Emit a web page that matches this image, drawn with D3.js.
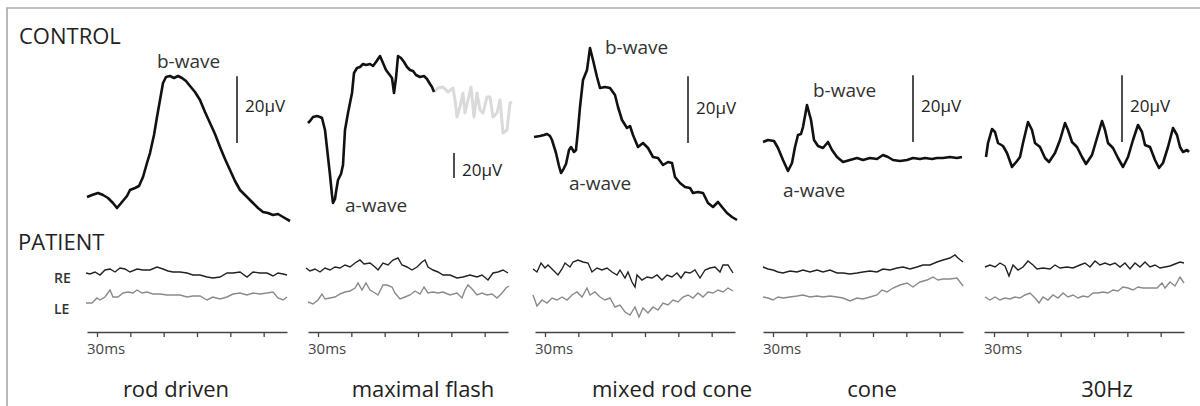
<!DOCTYPE html>
<html>
<head>
<meta charset="utf-8">
<script src="https://cdn.jsdelivr.net/npm/d3@7"></script>
<style>
  body { margin: 0; background: #fff; }
  text { font-family: "Open Sans", sans-serif; }
</style>
</head>
<body>
<div id="chart"></div>
<script>
// ---- data: time in ms, amplitude in µV ----
var panelNames = ["rod driven", "maximal flash", "mixed rod cone", "cone", "30Hz"];
var tickValues = [0, 30, 60, 90, 120, 150];
var tickLabel = "30ms";
var scaleBarValue = 20; // µV

// control traces
var ctrlRod = [[-9,0],[-4.5,0.6],[0.9,1.2],[5.4,0.6],[9.9,-0.3],[14.4,-1.8],[18,-3.3],[22.5,-1.5],[27,0.3],[29.7,2.1],[34.2,2.7],[37.8,3.3],[41.4,6.0],[45,10.2],[47.7,13.2],[51.3,18.6],[54,24.0],[56.7,29.1],[59.4,34.2],[62.1,36.0],[65.7,36.3],[69.3,35.7],[72.9,36.3],[76.5,35.7],[80.1,34.8],[83.7,33.3],[88.2,31.5],[92.7,29.1],[97.2,25.5],[101.7,22.2],[106.2,18.9],[110.7,15.0],[115.2,11.4],[119.7,8.1],[124.2,4.8],[128.7,2.1],[135,0],[140.4,-1.8],[144.9,-3.3],[149.4,-4.5],[153.9,-4.8],[158.4,-5.4],[162.9,-5.1],[167.4,-6.0],[173.7,-7.2]];
var ctrlMax = [[-9,0],[-7.2,1.6],[-4.5,4.8],[-0.9,5.6],[1.8,4.8],[3.6,4.0],[6.3,-5.6],[9,-27.2],[10.8,-41.6],[12.6,-57.6],[13.5,-64.0],[15.3,-60.8],[16.2,-55.2],[18,-45.6],[20.7,-40.8],[22.5,-33.6],[24.3,-5.6],[27,8.0],[28.8,16.0],[30.6,24.0],[32.4,40.0],[35.1,44.0],[37.8,44.8],[40.5,47.2],[43.2,46.4],[46.8,47.2],[49.5,45.6],[52.2,48.8],[55.8,53.6],[58.5,48.0],[61.2,42.4],[63.9,39.2],[66.6,36.0],[68.4,24.0],[70.2,36.0],[72,53.6],[74.7,52.0],[77.4,48.8],[80.1,44.8],[82.8,42.4],[85.5,41.6],[88.2,38.4],[91.8,36.8],[95.4,37.6],[98.1,35.2],[100.8,31.2],[102.6,28.8],[104.4,24.8]];
var ctrlMaxTail = [[104.4,24.8],[108,28.0],[112.5,28.8],[117,24.8],[121.5,28.0],[123.3,18.4],[125.1,4.8],[127.8,12.8],[130.5,24.0],[132.3,8.0],[135,18.4],[137.7,28.8],[140.4,4.8],[143.1,24.0],[145.8,10.4],[148.5,8.0],[152.1,20.8],[154.8,20.8],[157.5,4.8],[161.1,8.0],[163.8,18.4],[166.5,-8.0],[170.1,-5.6],[172.8,16.0],[174.6,16.8]];
var ctrlMixed = [[-9.9,0],[-4.5,0.3],[-0.9,0.6],[1.8,0.9],[4.5,0.3],[6.3,-0.9],[9.9,-4.8],[12.6,-8.7],[14.4,-10.8],[16.2,-9.9],[18.9,-8.1],[21.6,-3.9],[23.4,-3.0],[26.1,-4.5],[27.9,-3.9],[29.7,2.1],[31.5,9.0],[34.2,17.1],[37.8,20.1],[40.5,26.7],[43.2,23.1],[46.8,18.0],[49.5,14.7],[54,15.0],[58.5,14.7],[63,12.6],[65.7,9.0],[69.3,5.1],[73.8,2.7],[76.5,3.3],[79.2,0.6],[83.7,-3.0],[88.2,-1.8],[92.7,-3.3],[97.2,-6.0],[101.7,-6.3],[106.2,-8.4],[110.7,-7.5],[114.3,-7.8],[117,-12.0],[121.5,-13.8],[126,-15.0],[130.5,-15.3],[133.2,-16.8],[137.7,-16.5],[142.2,-16.8],[146.7,-19.8],[151.2,-21.0],[155.7,-19.5],[159.3,-21.0],[163.8,-22.8],[168.3,-24.0],[172.8,-24.9]];
var ctrlCone = [[-9,-0.3],[-4.5,0.3],[0.9,0],[4.5,-2.1],[9,-5.7],[13.5,-9.0],[17.1,-6.6],[19.8,-1.8],[22.5,1.8],[25.2,2.1],[27,4.2],[30.6,10.8],[34.2,6.3],[36.9,0.3],[40.5,-1.5],[45,-2.1],[49.5,-0.3],[53.1,-2.7],[57.6,-4.8],[63,-6.3],[69.3,-5.7],[75.6,-5.1],[81,-5.7],[87.3,-5.1],[93.6,-5.4],[99,-4.2],[103.5,-4.8],[108,-5.7],[114.3,-6.0],[120.6,-5.7],[126,-5.1],[132.3,-5.4],[136.8,-5.1],[143.1,-5.4],[147.6,-5.1],[153,-5.1],[159.3,-4.8],[165.6,-5.1],[170.1,-4.8]];
var ctrlFlicker = [[-7.2,-2.1],[-5.4,2.1],[-1.8,6.3],[0.9,5.4],[3.6,2.1],[8.1,1.2],[11.7,-0.9],[16.2,-5.1],[20.7,-3.3],[23.4,-2.1],[26.1,2.1],[30.6,8.4],[34.2,6.0],[36.9,2.1],[41.4,0.9],[45.9,-2.4],[49.5,-3.6],[54.9,-0.9],[59.4,3.0],[63.9,8.1],[66.6,6.0],[70.2,2.4],[74.7,0.9],[79.2,-2.1],[82.8,-4.2],[88.2,-1.5],[92.7,3.6],[97.2,8.7],[99.9,6.0],[102.6,2.1],[107.1,0.6],[111.6,-2.4],[116.1,-5.1],[120.6,-2.1],[125.1,3.0],[129.6,7.5],[133.2,5.4],[135.9,1.5],[140.4,0.9],[144.9,-3.0],[148.5,-5.4],[152.1,-3.9],[156.6,0.9],[161.1,6.6],[164.7,4.5],[167.4,0.9],[170.1,-0.6],[173.7,0],[175.5,-0.6]];

// patient traces, right eye (RE) and left eye (LE)
var reRod = [[-9.9,-0.3],[-6.3,-0.6],[-1.8,0],[2.7,-0.9],[7.2,0.6],[11.7,0.9],[16.2,0],[20.7,1.2],[25.2,0.9],[29.7,0],[36,0.9],[41.4,0.6],[47.7,0.6],[54,1.5],[59.4,0.9],[63.9,0.3],[68.4,0],[74.7,0],[81,-0.3],[86.4,-0.9],[92.7,-0.9],[99,-1.5],[104.4,-1.8],[110.7,-1.5],[117,-0.3],[122.4,-0.3],[128.7,0],[135,-1.5],[140.4,0],[146.7,-0.3],[153,-0.3],[158.4,-1.2],[162.9,-0.3],[167.4,-0.6],[171,-0.9]];
var leRod = [[-9.9,-2.1],[-4.5,-2.1],[0,-0.6],[2.7,-1.2],[7.2,-0.3],[11.7,1.8],[14.4,-0.3],[18.9,-0.3],[23.4,0.9],[27.9,1.2],[32.4,0.9],[36,1.8],[40.5,0.9],[45,1.2],[50.4,0.6],[56.7,0.6],[63,0.3],[68.4,0.3],[74.7,0.3],[81,-0.3],[86.4,0],[92.7,0],[99,-1.2],[104.4,-0.3],[110.7,-0.9],[117,-0.3],[122.4,0.6],[128.7,0.9],[135,0.3],[140.4,0.9],[146.7,0.6],[153,0.9],[158.4,1.2],[162.9,-0.6],[167.4,-1.2],[171,-0.3]];
var reMax = [[-10.8,1.2],[-7.2,0.3],[-2.7,0.9],[1.8,0],[6.3,1.2],[10.8,0.6],[15.3,1.5],[19.8,1.2],[24.3,2.1],[28.8,1.5],[33.3,2.7],[37.8,3.6],[41.4,2.4],[46.8,2.7],[51.3,1.5],[54,0.6],[58.5,2.7],[63,2.1],[67.5,3.6],[72,4.2],[75.6,2.1],[80.1,1.5],[84.6,0.6],[89.1,1.5],[93.6,3.0],[96.3,3.6],[99,1.5],[103.5,0.6],[108,0],[112.5,-0.9],[118.8,-0.9],[125.1,-1.8],[130.5,-1.5],[136.8,-0.9],[143.1,-1.5],[147.6,-0.9],[153,-2.4],[157.5,-0.3],[162,0],[166.5,0.6],[171,-0.3]];
var leMax = [[-9,-1.8],[-4.5,-2.4],[0,-1.2],[3.6,0.6],[6.3,-0.9],[10.8,-0.6],[15.3,-0.3],[19.8,0.6],[24.3,1.2],[28.8,1.5],[33.3,2.4],[36,3.9],[39.6,1.8],[43.2,3.9],[46.8,1.8],[51.3,0.9],[54,0.3],[58.5,3.3],[62.1,3.3],[66.6,2.7],[69.3,0.9],[73.8,-0.9],[78.3,-0.3],[82.8,0.3],[87.3,1.5],[91.8,0.6],[95.4,2.7],[99,0.9],[103.5,1.2],[108,0.9],[112.5,1.2],[118.8,0.3],[125.1,0.9],[129.6,-0.6],[132.3,1.8],[135,3.3],[139.5,1.8],[143.1,0.3],[147.6,0.9],[152.1,0.3],[156.6,0.6],[161.1,-0.6],[165.6,0.9],[169.2,2.4],[171.9,3.0]];
var reMixed = [[-10.8,0.9],[-7.2,0],[-3.6,2.7],[0,1.2],[2.7,2.1],[7.2,0.6],[11.7,-0.9],[15.3,0.9],[18,2.7],[22.5,1.5],[25.2,3.0],[29.7,3.6],[34.2,3.0],[38.7,2.7],[42.3,0],[46.8,1.2],[51.3,0.6],[55.8,1.2],[60.3,0],[64.8,-0.9],[67.5,0.6],[72,-1.8],[74.7,0],[78.3,-3.0],[81,-4.5],[82.8,-0.9],[87.3,-2.4],[91.8,-1.5],[96.3,-1.8],[100.8,-0.9],[105.3,-2.4],[109.8,-0.9],[114.3,-1.5],[118.8,-0.3],[122.4,-1.8],[126,0],[130.5,-0.3],[135,0.6],[139.5,-1.8],[144,0.6],[148.5,1.2],[153,1.5],[157.5,0],[160.2,2.1],[164.7,2.1],[169.2,-0.3]];
var leMixed = [[-10.8,0.3],[-7.2,-3.0],[-2.7,-1.2],[1.8,-2.1],[6.3,-0.6],[10.8,-1.2],[15.3,-0.3],[19.8,-1.2],[24.3,0.3],[28.8,1.2],[33.3,-0.3],[37.8,2.4],[40.5,0.3],[45,1.2],[49.5,-0.3],[54,-1.2],[58.5,-0.6],[63,-3.3],[67.5,-2.7],[72,-4.8],[76.5,-5.7],[81,-3.3],[84.6,-6.3],[88.2,-3.6],[92.7,-5.1],[97.2,-3.3],[101.7,-4.2],[106.2,-2.1],[110.7,-2.7],[115.2,-1.2],[119.7,-1.8],[124.2,-0.3],[128.7,0.3],[133.2,-0.6],[137.7,0.9],[142.2,-0.3],[146.7,1.2],[151.2,0.9],[155.7,1.8],[160.2,1.2],[164.7,2.4],[169.2,1.5]];
var reCone = [[-9,1.5],[-4.5,0.9],[0,0.6],[4.5,0],[9,-0.3],[15.3,0.3],[21.6,0],[27,0.6],[33.3,0],[39.6,0.6],[45,0],[51.3,0.6],[57.6,-0.3],[63,-0.3],[69.3,-0.6],[75.6,-0.3],[81,0],[87.3,0.3],[93.6,0],[99,0.9],[105.3,0.6],[111.6,1.2],[117,1.5],[123.3,0.9],[129.6,1.5],[135,2.1],[141.3,2.1],[147.6,3.0],[153,3.6],[159.3,4.2],[163.8,5.1],[166.5,4.2],[171,3.0]];
var leCone = [[-9,-0.3],[-4.5,-0.6],[0,-1.2],[4.5,-0.3],[9,-0.6],[15.3,-0.3],[21.6,0],[27,0.3],[33.3,-0.3],[39.6,0],[45,-0.3],[51.3,0],[57.6,-0.3],[63,-0.6],[69.3,-1.5],[75.6,-0.6],[81,-0.9],[87.3,-0.3],[93.6,0.3],[98.1,1.8],[102.6,1.2],[108,2.4],[114.3,3.3],[120.6,3.9],[126,2.7],[132.3,4.2],[138.6,4.8],[144,5.7],[148.5,4.8],[153,5.1],[159.3,5.1],[165.6,5.4],[171,3.0]];
var reFlicker = [[-8.1,1.5],[-3.6,2.1],[0.9,1.5],[5.4,2.7],[9.9,1.8],[13.5,-1.2],[17.1,2.1],[21.6,0.6],[26.1,1.5],[30.6,3.3],[35.1,2.1],[38.7,0.9],[44.1,1.2],[50.4,0.9],[54.9,2.1],[59.4,1.2],[65.7,1.5],[71.1,1.2],[77.4,2.1],[81.9,2.7],[86.4,1.5],[90.9,3.3],[95.4,2.1],[99.9,2.7],[104.4,2.1],[108.9,2.7],[113.4,1.5],[117.9,2.7],[122.4,0.9],[126.9,2.7],[131.4,1.5],[135.9,3.0],[140.4,1.5],[144.9,2.1],[149.4,1.2],[153.9,1.5],[158.4,1.8],[162.9,2.4],[167.4,3.0],[171,2.7]];
var leFlicker = [[-8.1,-0.3],[-3.6,-1.2],[0.9,-0.3],[5.4,-1.2],[9.9,-0.6],[14.4,-0.9],[18.9,-0.3],[23.4,-0.6],[27.9,0.3],[32.4,0.9],[36.9,-0.6],[40.5,-2.1],[44.1,-0.3],[48.6,-1.2],[53.1,0.3],[57.6,-0.6],[62.1,0.9],[66.6,-0.3],[71.1,0.3],[75.6,-0.6],[80.1,0],[84.6,-0.3],[89.1,0.9],[93.6,0.9],[98.1,1.2],[102.6,0.9],[107.1,1.8],[111.6,1.5],[116.1,2.7],[120.6,2.4],[125.1,1.8],[129.6,2.7],[134.1,2.4],[140.4,2.4],[146.7,2.4],[151.2,3.9],[153.9,2.4],[158.4,4.2],[162.9,3.0],[167.4,5.7],[171,3.9]];

var controlTraces = [ctrlRod, ctrlMax, ctrlMixed, ctrlCone, ctrlFlicker];
var reTraces = [reRod, reMax, reMixed, reCone, reFlicker];
var leTraces = [leRod, leMax, leMixed, leCone, leFlicker];

// annotations: [panel, label, time ms, µV] (left edge of label)
var waveLabels = [
  [0, "b-wave", 54, 40.8],
  [1, "a-wave", 24.3, -65.6],
  [2, "b-wave", 54, 27],
  [2, "a-wave", 21.6, -13.8],
  [3, "b-wave", 36, 15.3],
  [3, "a-wave", 9, -14.7]
];
// scale bar per panel: [time ms, bottom µV]
var scaleBars = [[126, 16.2], [122.4, -44], [128.7, -1.8], [126, -0.3], [115.2, 2.4]];

// ---- layout ----
var w = 1200, h = 406;
var panelLeft = [87, 308, 535, 763, 984];
var panelW = 200;
var ctrlZero = [197, 123, 137, 141, 150];     // px of 0 µV in control row
var ctrlGain = [3.333, 1.25, 3.333, 3.333, 3.333]; // px per µV
var reZero = 272, leZero = 296, patientGain = 3.333;
var axisY = 332;
var nameX = [176, 423, 672, 872, 1107];
var barLabelShift = [-4, 4, -2, -3.5, -3.5];

var svg = d3.select("#chart").append("svg")
  .attr("width", w)
  .attr("height", h);

// frame
svg.append("path")
  .attr("d", "M7," + (h + 5) + "V8H" + (w + 5))
  .attr("fill", "none")
  .attr("stroke", "#a8a8a8")
  .attr("stroke-width", 1.6);

svg.append("text").attr("x", 19).attr("y", 35)
  .attr("dominant-baseline", "central")
  .style("font-size", "22px").attr("fill", "#222").text("CONTROL");
svg.append("text").attr("x", 18).attr("y", 241)
  .attr("dominant-baseline", "central")
  .style("font-size", "22px").attr("fill", "#222").text("PATIENT");
svg.append("text").attr("x", 54).attr("y", 277)
  .attr("dominant-baseline", "central")
  .style("font-size", "14px").style("font-weight", 600).attr("fill", "#333").text("RE");
svg.append("text").attr("x", 54).attr("y", 308)
  .attr("dominant-baseline", "central")
  .style("font-size", "14px").style("font-weight", 600).attr("fill", "#333").text("LE");

panelNames.forEach(function (name, i) {
  var x = d3.scaleLinear().domain([-9, 171]).range([panelLeft[i], panelLeft[i] + panelW]);
  var yC = d3.scaleLinear().domain([0, 20]).range([ctrlZero[i], ctrlZero[i] - 20 * ctrlGain[i]]);
  var yRE = d3.scaleLinear().domain([0, 20]).range([reZero, reZero - 20 * patientGain]);
  var yLE = d3.scaleLinear().domain([0, 20]).range([leZero, leZero - 20 * patientGain]);

  var g = svg.append("g");

  var lineC = d3.line().x(function (d) { return x(d[0]); }).y(function (d) { return yC(d[1]); });
  var lineRE = d3.line().x(function (d) { return x(d[0]); }).y(function (d) { return yRE(d[1]); });
  var lineLE = d3.line().x(function (d) { return x(d[0]); }).y(function (d) { return yLE(d[1]); });

  if (i == 1) {
    g.append("path").datum(ctrlMaxTail)
      .attr("d", lineC)
      .attr("fill", "none")
      .attr("stroke", "#dadada")
      .attr("stroke-width", 3)
      .attr("stroke-linejoin", "round");
  }

  g.append("path").datum(controlTraces[i])
    .attr("d", lineC)
    .attr("fill", "none")
    .attr("stroke", "#111")
    .attr("stroke-width", 2.6)
    .attr("stroke-linejoin", "round");

  g.append("path").datum(reTraces[i])
    .attr("d", lineRE)
    .attr("fill", "none")
    .attr("stroke", "#222")
    .attr("stroke-width", 1.4);

  g.append("path").datum(leTraces[i])
    .attr("d", lineLE)
    .attr("fill", "none")
    .attr("stroke", "#8a8a8a")
    .attr("stroke-width", 1.4);

  // 20 µV scale bar
  var sb = scaleBars[i];
  g.append("line")
    .attr("x1", x(sb[0])).attr("x2", x(sb[0]))
    .attr("y1", yC(sb[1])).attr("y2", yC(sb[1] + scaleBarValue))
    .attr("stroke", "#222")
    .attr("stroke-width", 1.6);
  g.append("text")
    .attr("x", x(sb[0]) + 8)
    .attr("y", (yC(sb[1]) + yC(sb[1] + scaleBarValue)) / 2 + barLabelShift[i])
    .attr("dominant-baseline", "central")
    .style("font-size", "17px").attr("fill", "#222")
    .text(scaleBarValue + "\u00b5V");

  // time axis
  var axis = d3.axisBottom(x).tickValues(tickValues).tickSize(5).tickSizeOuter(0).tickFormat("");
  var ax = g.append("g")
    .attr("transform", "translate(0," + axisY + ")")
    .call(axis);
  ax.select(".domain").attr("stroke", "#444").attr("stroke-width", 1.3);
  ax.selectAll(".tick line").attr("stroke", "#444").attr("stroke-width", 1.3);

  g.append("text")
    .attr("x", x(-9))
    .attr("y", axisY + 16)
    .attr("dominant-baseline", "central")
    .style("font-size", "15px").attr("fill", "#444")
    .text(tickLabel);

  g.append("text")
    .attr("x", nameX[i])
    .attr("y", 388)
    .attr("text-anchor", "middle")
    .attr("dominant-baseline", "central")
    .style("font-size", "22px").attr("fill", "#222")
    .text(name);

  waveLabels.filter(function (d) { return d[0] == i; }).forEach(function (d) {
    g.append("text")
      .attr("x", x(d[2]))
      .attr("y", yC(d[3]))
      .attr("dominant-baseline", "central")
      .style("font-size", "19px").attr("fill", "#333")
      .text(d[1]);
  });
});
</script>
</body>
</html>
